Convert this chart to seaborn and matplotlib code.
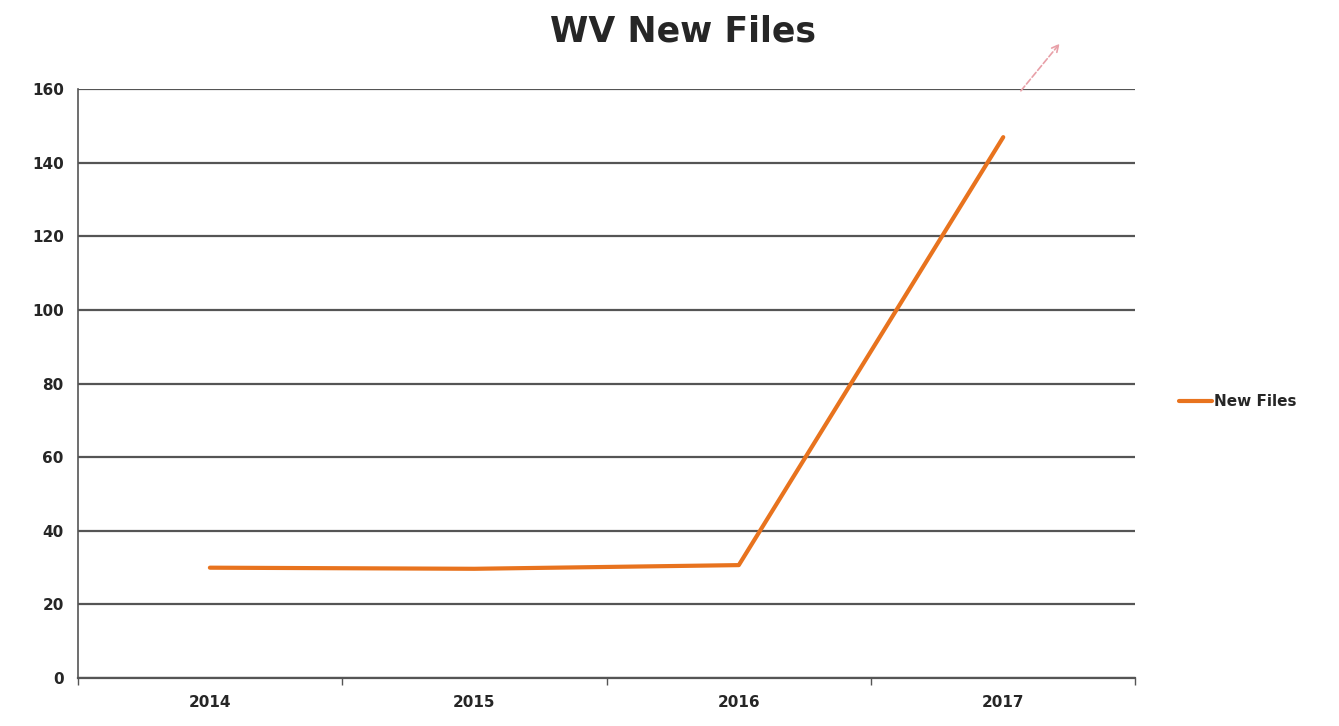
import matplotlib
matplotlib.use("Agg")
import matplotlib.pyplot as plt
import seaborn as sns
import pandas as pd
import numpy as np

years = ["2014", "2015", "2016", "2017"]
new_files = [30, 29.7, 30.7, 147]
y_ticks = [0, 20, 40, 60, 80, 100, 120, 140, 160]

sns.set_theme(style="white")
plt.rcParams['font.family'] = ['DejaVu Sans']

df = pd.DataFrame({"pos": np.arange(len(years)), "New Files": new_files})

fig = plt.figure(figsize=(13.39, 7.26), dpi=100)
ax = fig.add_axes([0.058, 0.066, 0.79, 0.811])

sns.lineplot(data=df, x="pos", y="New Files", ax=ax, color="#E8731E",
             linewidth=3, label="New Files", legend=False)

ax.set_xlim(-0.5, len(years) - 0.5)
ax.set_ylim(0, 160)
ax.set_yticks(y_ticks)
ax.set_yticklabels([str(t) for t in y_ticks], fontsize=11, fontweight="bold")
ax.set_xticks(np.arange(len(years)))
ax.set_xticklabels(years, fontsize=11, fontweight="bold")
ax.tick_params(axis="x", length=0, pad=12)
ax.tick_params(axis="y", length=0, pad=10)
# category boundary ticks
ax.set_xticks(np.arange(-0.5, len(years) + 0.5, 1), minor=True)
ax.tick_params(axis="x", which="minor", bottom=True, length=5, width=1,
               color="#555555", direction="out")

ax.grid(axis="y", color="#555555", linewidth=1.6)
ax.set_axisbelow(True)
for s in ["top", "right"]:
    ax.spines[s].set_visible(False)
ax.spines["left"].set_color("#555555")
ax.spines["bottom"].set_color("#555555")
ax.spines["left"].set_linewidth(1.2)
ax.spines["bottom"].set_linewidth(1.6)
ax.set_xlabel("")
ax.set_ylabel("")

# faint dashed arrow hinting upward trend
ax.annotate("", xy=(3.22, 173), xytext=(3.06, 159),
            arrowprops=dict(arrowstyle="->", color="#E8A0A8", lw=1.2, linestyle="--"),
            annotation_clip=False)

fig.suptitle("WV New Files", x=0.51, y=0.98, fontsize=25, fontweight="bold")

handles, labels = ax.get_legend_handles_labels()
fig.legend(handles, labels, loc="center left", bbox_to_anchor=(0.87, 0.447),
           frameon=False, fontsize=11, handlelength=2.2, handletextpad=0.1)
for t in fig.legends[0].get_texts():
    t.set_fontweight("bold")

fig.savefig("out.png", dpi=100)
